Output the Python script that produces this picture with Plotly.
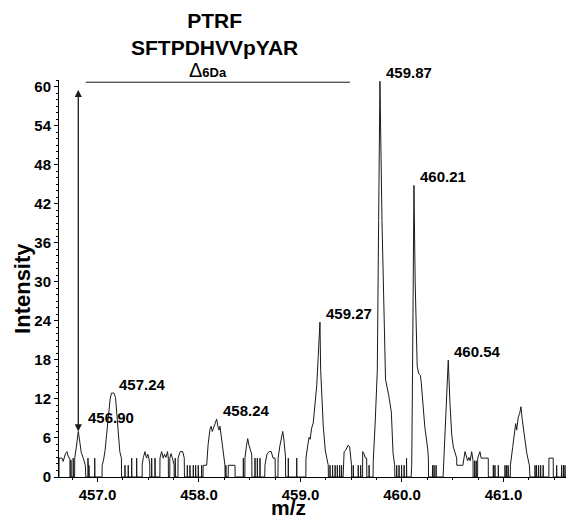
import plotly.graph_objects as go
import numpy as np

# ---------------- data ----------------
mz = [
    456.621, 456.622, 456.650, 456.662, 456.685, 456.700, 456.715, 456.728, 456.729, 456.738, 456.739, 456.741, 456.760, 456.761, 456.763, 456.775, 456.776, 456.792, 456.811, 456.826, 456.840, 456.862, 456.880, 456.885, 456.905, 456.906, 456.908, 456.915, 456.916, 456.918, 456.972, 456.973, 456.975,
    457.045, 457.046, 457.060, 457.075, 457.090, 457.107, 457.125, 457.138, 457.162, 457.178, 457.193, 457.207, 457.220, 457.236, 457.237, 457.270, 457.271, 457.273, 457.302, 457.303, 457.305, 457.336, 457.337, 457.339, 457.385, 457.386, 457.388,
    457.440, 457.441, 457.452, 457.468, 457.478, 457.485, 457.495, 457.503, 457.515, 457.516, 457.533, 457.534, 457.536, 457.566, 457.567, 457.569, 457.615, 457.616, 457.632, 457.648, 457.660, 457.675, 457.690, 457.698, 457.699, 457.712, 457.713, 457.725, 457.740, 457.755, 457.756, 457.765, 457.766, 457.768, 457.793, 457.794, 457.815, 457.840, 457.855, 457.857,
    457.884, 457.885, 457.887, 457.910, 457.911, 457.913, 457.943, 457.944, 457.946, 457.966, 457.967, 457.969, 457.992, 457.993, 457.995, 458.025, 458.026, 458.028, 458.040, 458.041, 458.076, 458.090, 458.108, 458.120, 458.131, 458.150, 458.174, 458.190, 458.197, 458.207, 458.233, 458.256, 458.257, 458.264, 458.265, 458.267, 458.288, 458.289, 458.355, 458.356,
    458.436, 458.437, 458.439, 458.452, 458.453, 458.468, 458.480, 458.492, 458.508, 458.520, 458.522, 458.551, 458.552, 458.554, 458.574, 458.575, 458.577, 458.600, 458.601, 458.603, 458.648, 458.650, 458.670, 458.690, 458.712, 458.730, 458.750, 458.752, 458.778, 458.780, 458.795, 458.812, 458.825, 458.835, 458.852, 458.854, 458.879, 458.880, 458.882, 458.962, 458.963, 458.965,
    459.053, 459.054, 459.077, 459.085, 459.095, 459.110, 459.126, 459.145, 459.160, 459.175, 459.192, 459.199, 459.212, 459.225, 459.245, 459.258, 459.274, 459.275, 459.290, 459.291, 459.293, 459.315, 459.316, 459.318, 459.340, 459.341, 459.343, 459.362, 459.363, 459.365, 459.385, 459.386, 459.388, 459.404, 459.405, 459.407,
    459.420, 459.422, 459.430, 459.445, 459.470, 459.485, 459.495, 459.503, 459.504, 459.519, 459.520, 459.522, 459.568, 459.569, 459.571, 459.592, 459.593, 459.595, 459.612, 459.613, 459.625, 459.640, 459.652, 459.654, 459.675, 459.676, 459.678,
    459.715, 459.717, 459.735, 459.757, 459.770, 459.783, 459.803, 459.838, 459.870, 459.895, 459.912, 459.928, 459.930, 459.947, 459.948, 459.950, 459.970, 459.971, 459.973, 459.995, 459.996, 459.998, 460.020, 460.021, 460.023, 460.044, 460.045, 460.047,
    460.090, 460.096, 460.104, 460.118, 460.130, 460.150, 460.165, 460.182, 460.190, 460.225, 460.255, 460.260, 460.262, 460.300, 460.301, 460.303, 460.315, 460.316, 460.318, 460.335, 460.336, 460.338,
    460.405, 460.410, 460.440, 460.456, 460.473, 460.490, 460.506, 460.539, 460.540, 460.600, 460.621, 460.635, 460.647, 460.660, 460.672, 460.687, 460.697, 460.700, 460.701, 460.715, 460.716, 460.718, 460.730, 460.731, 460.733, 460.745, 460.746, 460.768, 460.780, 460.850, 460.851,
    460.899, 460.900, 460.902, 460.915, 460.916, 460.918, 460.948, 460.949, 460.951, 461.014, 461.015, 461.017, 461.030, 461.031, 461.033, 461.045, 461.046, 461.048,
    461.067, 461.068, 461.090, 461.108, 461.120, 461.130, 461.146, 461.160, 461.172, 461.185, 461.199, 461.229, 461.255, 461.261,
    461.310, 461.311, 461.313, 461.325, 461.326, 461.328, 461.345, 461.346, 461.348, 461.365, 461.366, 461.368, 461.390, 461.391, 461.393, 461.447, 461.448, 461.490, 461.491, 461.523, 461.524, 461.526, 461.572, 461.573, 461.575, 461.590, 461.591, 461.593, 461.605, 461.606, 461.608, 461.616,
]
intensity = [
    0, 2.9, 2.9, 2.4, 3.6, 3.9, 3.0, 2.9, 0, 0, 2.6, 0, 0, 2.9, 0, 0, 2.9, 4.6, 7.0, 5.4, 3.8, 2.8, 1.8, 0, 0, 2.9, 0, 0, 1.8, 0, 0, 2.9, 0,
    0, 1.8, 2.6, 4.1, 6.5, 9.3, 12.0, 12.9, 12.9, 12.2, 9.0, 6.0, 3.9, 2.9, 0, 0, 1.8, 0, 0, 1.8, 0, 0, 2.9, 0, 0, 2.9, 0,
    0, 2.0, 3.0, 3.9, 3.2, 2.9, 3.5, 3.2, 2.0, 0, 0, 2.9, 0, 0, 2.9, 0, 0, 2.9, 3.9, 2.9, 3.5, 3.0, 3.9, 2.9, 0, 0, 2.9, 3.6, 2.8, 1.8, 0, 0, 2.9, 0, 0, 2.9, 3.9, 3.9, 2.9, 0,
    0, 1.8, 0, 0, 1.8, 0, 0, 1.8, 0, 0, 1.8, 0, 0, 1.8, 0, 0, 1.8, 0, 0, 1.8, 1.8, 5.0, 7.3, 7.8, 7.0, 8.0, 8.9, 7.5, 7.2, 7.8, 4.1, 1.8, 0, 0, 1.8, 0, 0, 1.8, 1.8, 0,
    0, 2.9, 0, 0, 2.9, 4.8, 5.9, 4.9, 4.1, 3.5, 0, 0, 2.9, 0, 0, 2.9, 0, 0, 2.9, 0, 0, 1.8, 3.5, 3.9, 3.9, 2.9, 2.9, 0, 0, 2.9, 4.6, 6.2, 7.0, 6.0, 3.2, 0, 0, 2.9, 0, 0, 2.9, 0,
    0, 2.9, 5.4, 6.1, 5.8, 7.5, 8.3, 11.0, 14.0, 18.5, 23.8, 16.4, 10.5, 7.7, 4.0, 2.9, 1.8, 0, 0, 1.8, 0, 0, 1.8, 0, 0, 1.8, 0, 0, 1.8, 0, 0, 1.8, 0, 0, 1.8, 0,
    0, 1.8, 3.9, 4.1, 4.9, 4.6, 3.2, 1.8, 0, 0, 1.8, 0, 0, 1.8, 0, 0, 1.8, 0, 0, 3.9, 3.6, 2.9, 2.9, 0, 0, 1.8, 0,
    0, 2.5, 8.0, 16.4, 39.4, 60.8, 39.4, 15.0, 12.5, 10.0, 3.7, 1.8, 0, 0, 1.8, 0, 0, 1.8, 0, 0, 1.8, 0, 0, 1.8, 0, 0, 2.9, 0,
    0, 1.8, 16.0, 44.8, 30.0, 17.0, 15.9, 15.6, 14.5, 7.7, 4.1, 2.9, 0, 0, 1.8, 0, 0, 1.8, 0, 0, 1.8, 0,
    0, 2.0, 14.0, 17.95, 11.3, 6.5, 4.6, 2.9, 1.8, 1.8, 3.9, 3.0, 2.5, 3.0, 2.5, 3.9, 2.5, 2.5, 0, 0, 2.5, 0, 0, 2.5, 0, 0, 2.9, 3.9, 2.9, 2.9, 0,
    0, 1.8, 0, 0, 1.8, 0, 0, 1.8, 0, 0, 1.8, 0, 0, 1.8, 0, 0, 1.8, 0,
    0, 1.8, 4.5, 7.0, 8.2, 7.2, 9.2, 9.8, 10.8, 8.8, 7.2, 3.7, 1.8, 0,
    0, 1.8, 0, 0, 1.8, 0, 0, 1.8, 0, 0, 1.8, 0, 0, 1.8, 0, 0, 2.9, 2.9, 0, 0, 1.8, 0, 0, 1.8, 0, 0, 1.8, 0, 0, 1.8, 0, 0,
]
assert len(mz) == len(intensity), (len(mz), len(intensity))

peak_labels = ["456.90", "457.24", "458.24", "459.27", "459.87", "460.21", "460.54"]
peak_mz = [456.811, 457.150, 458.174, 459.192, 459.783, 460.118, 460.456]

y_ticks = [0, 6, 12, 18, 24, 30, 36, 42, 48, 54, 60]
x_ticks = [457.0, 458.0, 459.0, 460.0, 461.0]
x_tick_text = ["457.0", "458.0", "459.0", "460.0", "461.0"]

title_lines = ["PTRF", "SFTPDHVVpYAR"]
delta_label = "Δ"
delta_unit = "6Da"
delta_span = [456.886, 459.488]   # bracket line between light and heavy forms
arrow_top = 59.7

# ---------------- figure ----------------
FONT = "Liberation Sans, Arial, Helvetica, sans-serif"

fig = go.Figure()
fig.add_trace(go.Scatter(x=mz, y=intensity, mode="lines",
                         line=dict(color="#1a1a1a", width=1),
                         hoverinfo="skip", showlegend=False))

annotations = []
label_shift = {"456.90": (8, 14)}
for txt, pm in zip(peak_labels, peak_mz):
    py = float(np.interp(pm, mz, intensity))
    xs, ys = label_shift.get(txt, (4, 9))
    annotations.append(dict(x=pm, y=py, xref="x", yref="y", text=txt,
                            showarrow=False, xanchor="left", yanchor="middle",
                            xshift=xs, yshift=ys,
                            font=dict(family=FONT, size=15, color="black", weight="bold")))

# double-headed arrow down to the light peak
light_peak_y = float(np.interp(peak_mz[0], mz, intensity))
annotations.append(dict(x=peak_mz[0], y=light_peak_y, ax=peak_mz[0], ay=arrow_top,
                        xref="x", yref="y", axref="x", ayref="y", text="",
                        showarrow=True, arrowhead=2, arrowside="end+start",
                        arrowsize=1.1, arrowwidth=1.3, arrowcolor="#1a1a1a",
                        standoff=0, startstandoff=0))

# title
annotations.append(dict(x=0.306, y=1.117, xref="paper", yref="paper",
                        text="<br>".join(title_lines), showarrow=False,
                        xanchor="center", yanchor="middle",
                        font=dict(family=FONT, size=21, color="black", weight="bold")))
# delta label
annotations.append(dict(x=0.293, y=1.026, xref="paper", yref="paper",
                        text=f"<span style='font-size:20px;font-weight:normal'>{delta_label}</span>"
                             f"<span style='font-size:13px'>{delta_unit}</span>",
                        showarrow=False, xanchor="center", yanchor="middle",
                        font=dict(family=FONT, size=13, color="black", weight="bold")))
# axis titles
annotations.append(dict(x=0.452, y=-0.076, xref="paper", yref="paper", text="m/z",
                        showarrow=False, xanchor="center", yanchor="middle",
                        font=dict(family=FONT, size=21, color="black", weight="bold")))
annotations.append(dict(x=-0.072, y=0.475, xref="paper", yref="paper", text="Intensity",
                        showarrow=False, xanchor="center", yanchor="middle", textangle=-90,
                        font=dict(family=FONT, size=22, color="black", weight="bold")))

fig.add_shape(type="line", xref="x", yref="y",
              x0=delta_span[0], x1=delta_span[1], y0=60.66, y1=60.66,
              line=dict(color="#1a1a1a", width=1))

fig.update_layout(
    width=566, height=519,
    margin=dict(l=59, r=0, t=80, b=42),
    paper_bgcolor="white", plot_bgcolor="white",
    annotations=annotations,
    xaxis=dict(range=[456.621, 461.616], tickvals=x_ticks, ticktext=x_tick_text,
               showline=True, linecolor="black", linewidth=1, mirror=False,
               ticks="outside", ticklen=4, tickcolor="black", showgrid=False, zeroline=False,
               automargin=False,
               minor=dict(dtick=0.25, ticks="outside", ticklen=2, tickcolor="black", showgrid=False),
               tickfont=dict(family=FONT, size=15, color="black", weight="bold")),
    yaxis=dict(range=[0, 61], tickvals=y_ticks,
               showline=True, linecolor="black", linewidth=1, mirror=False,
               ticks="outside", ticklen=4, tickcolor="black", showgrid=False, zeroline=False,
               automargin=False,
               minor=dict(dtick=1, ticks="outside", ticklen=2, tickcolor="black", showgrid=False),
               tickfont=dict(family=FONT, size=15, color="black", weight="bold")),
)

fig.write_html("out.html", config={"displayModeBar": False},
               post_script="document.body.style.margin='0';document.body.style.overflow='hidden';")
